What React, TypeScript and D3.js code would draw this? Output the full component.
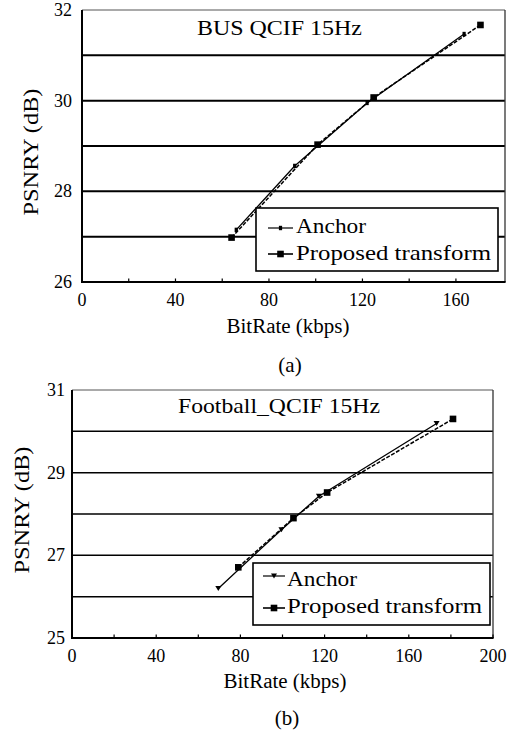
import React from "react";
import * as d3 from "d3";

// ---- data ----
const busAnchorRate = [66, 91, 122, 163.5];
const busAnchorPsnr = [27.15, 28.56, 29.95, 31.47];
const busProposedRate = [64, 100.8, 124.8, 170.5];
const busProposedPsnr = [26.98, 29.03, 30.07, 31.67];

const footAnchorRate = [69.5, 99.5, 117.3, 173.2];
const footAnchorPsnr = [26.2, 27.62, 28.43, 30.19];
const footProposedRate = [79, 105.2, 121.2, 181];
const footProposedPsnr = [26.71, 27.9, 28.52, 30.3];

const busXTicks = [0, 40, 80, 120, 160];
const busXMinor = [20, 60, 100, 140];
const busYTicks = [26, 28, 30, 32];
const busGrid = [27, 28, 29, 30, 31];

const footXTicks = [0, 40, 80, 120, 160, 200];
const footXMinor = [20, 60, 100, 140, 180];
const footYTicks = [25, 27, 29, 31];
const footGrid = [26, 27, 28, 29, 30];

const seriesNames = ["Anchor", "Proposed transform"];

const FONT = '"Liberation Serif"';

type PanelProps = {
  left: number; right: number; top: number; bottom: number;
  xDomain: [number, number]; yDomain: [number, number];
  xTicks: number[]; xMinor: number[]; yTicks: number[]; grid: number[];
  anchorX: number[]; anchorY: number[]; propX: number[]; propY: number[];
  title: string; titleX: number; titleY: number; titleLen: number;
  ylabX: number; ylabY: number;
  xlabY: number; capY: number; caption: string; capX: number; xlabX: number;
  legend: { x0: number; y0: number; x1: number; y1: number; sx0: number; sx1: number; rows: number[]; tx: number; base: number[] };
  gridW: number; anchorTri: boolean; yLabEnd: number;
};

function Panel(p: PanelProps) {
  const x = d3.scaleLinear().domain(p.xDomain).range([p.left, p.right]);
  const y = d3.scaleLinear().domain(p.yDomain).range([p.bottom, p.top]);
  const line = d3.line<[number, number]>().x((d) => x(d[0])).y((d) => y(d[1]));
  const anchorPts: [number, number][] = p.anchorX.map((v, i) => [v, p.anchorY[i]]);
  const propPts: [number, number][] = p.propX.map((v, i) => [v, p.propY[i]]);
  const L = p.legend;

  const anchorMarker = (cx: number, cy: number, k: number) =>
    p.anchorTri ? (
      <path key={k} d={`M${cx - 3},${cy - 2.5}L${cx + 3},${cy - 2.5}L${cx},${cy + 2.5}Z`} fill="#000" />
    ) : (
      <rect key={k} x={cx - 1.6} y={cy - 2.2} width={3.2} height={4.4} fill="#000" />
    );
  const propMarker = (cx: number, cy: number, k: number) => (
    <rect key={k} x={cx - 3.3} y={cy - 3.3} width={6.6} height={6.6} fill="#000" />
  );

  return (
    <g fill="#000">
      {p.grid.map((g) => (
        <line key={"g" + g} x1={p.left} x2={p.right} y1={y(g)} y2={y(g)} stroke="#000" strokeWidth={p.gridW} />
      ))}
      <line x1={p.left} x2={p.right} y1={p.top} y2={p.top} stroke="#555" strokeWidth={1} />
      <line x1={p.right} x2={p.right} y1={p.top} y2={p.bottom} stroke="#333" strokeWidth={1.3} />
      <line x1={p.left} x2={p.left} y1={p.top} y2={p.bottom + 1} stroke="#000" strokeWidth={2} />
      <line x1={p.left - 1} x2={p.right + 0.6} y1={p.bottom} y2={p.bottom} stroke="#000" strokeWidth={2} />
      {[...p.xTicks, ...p.xMinor].map((t) => (
        <line key={"t" + t} x1={x(t)} x2={x(t)} y1={p.bottom} y2={p.bottom - 3.5} stroke="#000" strokeWidth={1.2} />
      ))}
      {p.xTicks.map((t) => (
        <text key={"xl" + t} x={x(t)} y={p.bottom + 24} fontSize={18} textAnchor="middle" style={{ fontFamily: FONT }}>{t}</text>
      ))}
      {p.yTicks.map((t) => (
        <text key={"yl" + t} x={p.yLabEnd} y={y(t) + 6} fontSize={18} textAnchor="end" style={{ fontFamily: FONT }}>{t}</text>
      ))}
      <path d={line(anchorPts) || ""} fill="none" stroke="#000" strokeWidth={1.3} />
      <path d={line(propPts) || ""} fill="none" stroke="#000" strokeWidth={1.5} strokeDasharray="4 1.6" />
      {anchorPts.map((d, i) => anchorMarker(x(d[0]), y(d[1]), i))}
      {propPts.map((d, i) => propMarker(x(d[0]), y(d[1]), i))}
      <text x={p.titleX} y={p.titleY} fontSize={22} textLength={p.titleLen} lengthAdjust="spacingAndGlyphs" style={{ fontFamily: FONT }}>{p.title}</text>
      <rect x={L.x0} y={L.y0} width={L.x1 - L.x0} height={L.y1 - L.y0} fill="#fff" stroke="#000" strokeWidth={1.6} />
      {seriesNames.map((n, i) => (
        <g key={n}>
          <line x1={L.sx0} x2={L.sx1} y1={L.rows[i]} y2={L.rows[i]} stroke="#000" strokeWidth={i === 0 ? 1.2 : 1.6} />
          {i === 0 ? anchorMarker((L.sx0 + L.sx1) / 2, L.rows[i], 99) : propMarker((L.sx0 + L.sx1) / 2, L.rows[i], 98)}
          <text x={L.tx} y={L.base[i]} fontSize={22} textLength={i === 0 ? 70 : 195} lengthAdjust="spacingAndGlyphs" style={{ fontFamily: FONT }}>{n}</text>
        </g>
      ))}
      <text x={p.xlabX} y={p.xlabY} fontSize={20} textAnchor="middle" textLength={123} lengthAdjust="spacingAndGlyphs" style={{ fontFamily: FONT }}>BitRate (kbps)</text>
      <text transform={`translate(${p.ylabX},${p.ylabY}) rotate(-90)`} fontSize={21} textAnchor="middle" textLength={127} lengthAdjust="spacingAndGlyphs" style={{ fontFamily: FONT }}>PSNRY (dB)</text>
      <text x={p.capX} y={p.capY} fontSize={21} textAnchor="middle" style={{ fontFamily: FONT }}>{p.caption}</text>
    </g>
  );
}

export default function App() {
  return (
    <svg width={520} height={736} viewBox="0 0 520 736" style={{ position: "absolute", left: 0, top: 0, background: "#fff" }}>
      <rect x={0} y={0} width={520} height={736} fill="#fff" />
      <Panel
        left={82} right={505} top={10} bottom={282}
        xDomain={[0, 181]} yDomain={[26, 32]}
        xTicks={busXTicks} xMinor={busXMinor} yTicks={busYTicks} grid={busGrid}
        anchorX={busAnchorRate} anchorY={busAnchorPsnr} propX={busProposedRate} propY={busProposedPsnr}
        title="BUS QCIF 15Hz" titleX={197} titleY={35} titleLen={165}
        ylabX={38} ylabY={152} xlabX={288} xlabY={333} capX={290} capY={372} caption="(a)"
        legend={{ x0: 256, y0: 208, x1: 498, y1: 271, sx0: 268, sx1: 293, rows: [228, 254], tx: 296, base: [233, 260] }}
        gridW={2} anchorTri={false} yLabEnd={72}
      />
      <Panel
        left={72} right={493} top={390} bottom={638}
        xDomain={[0, 200]} yDomain={[25, 31]}
        xTicks={footXTicks} xMinor={footXMinor} yTicks={footYTicks} grid={footGrid}
        anchorX={footAnchorRate} anchorY={footAnchorPsnr} propX={footProposedRate} propY={footProposedPsnr}
        title="Football_QCIF 15Hz" titleX={178} titleY={413} titleLen={202}
        ylabX={29} ylabY={510} xlabX={285} xlabY={688} capX={287} capY={725} caption="(b)"
        legend={{ x0: 253, y0: 563, x1: 490, y1: 625, sx0: 263, sx1: 285, rows: [576, 608], tx: 287, base: [586, 613] }}
        gridW={1.5} anchorTri={true} yLabEnd={65}
      />
    </svg>
  );
}
